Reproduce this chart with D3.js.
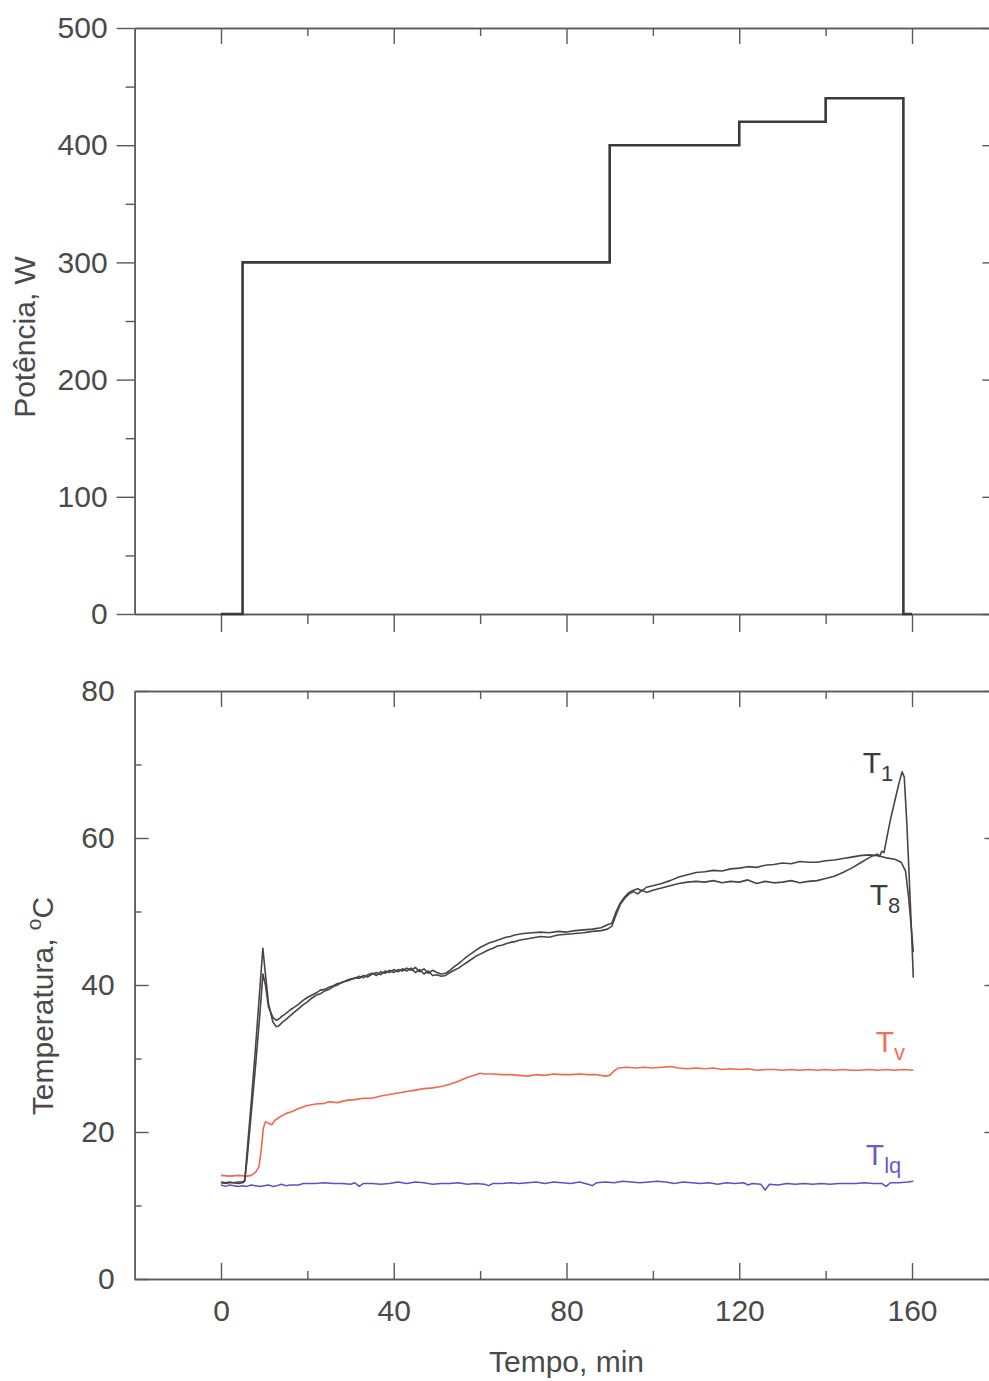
<!DOCTYPE html>
<html>
<head>
<meta charset="utf-8">
<script src="https://cdn.jsdelivr.net/npm/d3@7/dist/d3.min.js"></script>
<style>
  html, body { margin: 0; padding: 0; background: #fff; }
  svg { display: block; }
  .axis path, .axis line { stroke: #5a5a5a; stroke-width: 1.4; }
  .axis text { font-family: "Liberation Sans", Arial, sans-serif; font-size: 30px; fill: #4a4a4a; }
  .title { font-family: "Liberation Sans", Arial, sans-serif; font-size: 30px; fill: #4a4a4a; }
  .lbl { font-family: "Liberation Sans", Arial, sans-serif; font-size: 30px; }
</style>
</head>
<body>
<script>
// ---- Heating power programme (W) ----
const powerTime  = [0, 5, 90, 120, 140, 158, 160];
const powerValue = [0, 300, 400, 420, 440, 0, 0];

// ---- Temperature T1 (°C) ----
const t1Time = [0, 1, 2, 3, 4, 5, 5.5, 6, 7, 8, 9, 9.7, 10.2, 11, 12, 12.8, 13.5, 14, 15, 16, 17, 18, 19, 20,
  21, 22, 23, 24, 25, 26, 27, 28, 29, 30, 31, 32, 33, 34, 35, 36, 37, 38, 39, 40, 41, 42, 43, 44, 45, 46, 47, 48, 49, 50,
  51, 52, 53, 54, 55, 56, 57, 58, 59, 60, 61, 62, 63, 64, 65, 66, 67, 68, 69, 70, 72, 74, 76, 78, 80, 82, 84, 86, 88,
  89.5, 90.5, 91.5, 92.5, 93.5, 94.5, 95.5, 96.5, 97.5, 98.5, 100, 102, 104, 106, 108, 110, 112, 114, 116, 118, 120,
  122, 124, 126, 128, 130, 132, 134, 136, 138, 140, 142, 144, 146, 148, 150, 151, 152, 152.5, 153, 153.5, 154, 155,
  156, 157, 157.7, 158.2, 158.8, 159.4, 159.9, 160.3];
const t1Value = [13.1, 13.0, 13.1, 13.1, 13.0, 13.1, 13.3, 17.0, 24.0, 31.5, 39.5, 45.0, 42.0, 37.5, 35.0, 34.3, 34.5, 34.8, 35.3, 35.8, 36.3, 36.8, 37.3, 37.7,
  38.2, 38.6, 38.8, 39.2, 39.4, 39.8, 40.0, 40.4, 40.5, 40.7, 41.0, 40.9, 41.3, 41.1, 41.5, 41.7, 41.4, 41.9, 41.7, 42.1, 41.8, 42.2, 41.9, 42.3, 41.7, 42.1, 41.5, 41.9, 41.3, 41.4,
  41.2, 41.3, 41.7, 42.0, 42.3, 42.7, 43.1, 43.5, 43.9, 44.2, 44.5, 44.8, 45.0, 45.3, 45.4, 45.6, 45.8, 45.9, 46.1, 46.2, 46.4, 46.6, 46.5, 46.8, 46.9, 47.0, 47.1, 47.3, 47.4,
  47.6, 48.0, 49.6, 51.0, 51.8, 52.4, 52.7, 52.4, 52.9, 52.6, 52.9, 53.2, 53.5, 53.8, 54.0, 54.1, 54.0, 54.2, 53.9, 54.1, 54.0,
  54.3, 53.8, 54.1, 53.9, 54.0, 54.2, 53.9, 54.1, 54.2, 54.5, 54.8, 55.3, 55.9, 56.6, 57.3, 57.6, 57.8, 57.5, 58.2, 58.0, 59.5, 62.5,
  65.0, 67.5, 69.0, 68.3, 62.0, 54.0, 47.0, 41.0];

// ---- Temperature T8 (°C) ----
const t8Time = [0, 1, 2, 3, 4, 5, 5.5, 6, 7, 8, 9, 9.7, 10.3, 11, 12, 12.8, 13.5, 14, 15, 16, 17, 18, 19, 20,
  21, 22, 23, 24, 25, 26, 27, 28, 29, 30, 31, 32, 33, 34, 35, 36, 37, 38, 39, 40, 41, 42, 43, 44, 45, 46, 47, 48, 49, 50,
  51, 52, 53, 54, 55, 56, 57, 58, 59, 60, 61, 62, 63, 64, 65, 66, 67, 68, 69, 70, 72, 74, 76, 78, 80, 82, 84, 86, 88,
  89.5, 90.5, 91.5, 92.5, 93.5, 94.5, 95.5, 96.5, 97.5, 98.5, 100, 102, 104, 106, 108, 110, 112, 114, 116, 118, 120,
  122, 124, 126, 128, 130, 132, 134, 136, 138, 140, 142, 144, 146, 148, 150, 152, 154, 156, 157.5, 158.5, 159.2, 159.8, 160.3];
const t8Value = [13.2, 13.1, 13.2, 13.1, 13.2, 13.2, 13.4, 16.0, 22.5, 29.0, 36.0, 41.5, 40.0, 37.0, 35.6, 35.2, 35.4, 35.7, 36.1, 36.6, 37.0, 37.4, 37.9, 38.3,
  38.6, 38.9, 39.3, 39.4, 39.7, 39.9, 40.2, 40.3, 40.6, 40.8, 40.9, 41.2, 41.0, 41.4, 41.6, 41.3, 41.8, 41.6, 42.0, 41.7, 42.1, 41.9, 42.3, 42.0, 42.4, 41.8, 42.2, 41.6, 42.0, 41.7,
  41.5, 41.6, 42.0, 42.5, 42.9, 43.4, 43.9, 44.3, 44.7, 45.1, 45.4, 45.7, 45.9, 46.1, 46.3, 46.5, 46.6, 46.8, 46.9, 47.0, 47.1, 47.2, 47.1, 47.3, 47.2, 47.4, 47.5, 47.6, 47.8,
  48.2, 48.4, 50.0, 51.2, 52.0, 52.6, 52.9, 53.1, 52.8, 53.3, 53.5, 53.8, 54.2, 54.7, 55.0, 55.3, 55.4, 55.6, 55.5, 55.8, 55.9,
  56.1, 56.0, 56.3, 56.4, 56.6, 56.5, 56.8, 56.7, 56.7, 56.9, 57.0, 57.2, 57.4, 57.6, 57.7, 57.6, 57.3, 57.1, 56.7, 55.5, 52.0, 48.0, 44.5];

// ---- Vapour temperature Tv (°C) ----
const tvTime = [0, 2, 4, 6, 7, 8, 8.8, 9.3, 9.8, 10.3, 11, 11.8, 12.5, 13.5, 15, 16.5, 18, 20, 22, 24, 25, 27, 29, 31, 33, 35, 37, 39,
  41, 43, 45, 47, 49, 51, 53, 55, 57, 59, 60, 61, 63, 65, 67, 69, 71, 73, 75, 77, 79, 81, 83, 85, 87, 89, 90, 91, 92, 94, 96, 98,
  100, 102, 104, 106, 108, 110, 112, 114, 116, 118, 120, 122, 124, 126, 128, 130, 132, 134, 136, 138, 140, 142, 144, 146, 148,
  150, 152, 154, 156, 158, 160.3];
const tvValue = [14.1, 14.0, 14.1, 14.0, 14.1, 14.5, 15.3, 17.5, 20.5, 21.4, 21.2, 21.0, 21.6, 22.0, 22.5, 22.8, 23.2, 23.6, 23.8, 23.9, 24.1, 24.0, 24.3, 24.4, 24.6, 24.6, 24.9, 25.1,
  25.3, 25.5, 25.7, 25.9, 26.0, 26.2, 26.5, 26.9, 27.4, 27.8, 28.0, 27.9, 27.9, 27.8, 27.8, 27.7, 27.6, 27.8, 27.7, 27.9, 27.8, 27.8, 27.9, 27.8, 27.8, 27.6, 27.7, 28.3, 28.7, 28.8, 28.7, 28.8,
  28.7, 28.8, 28.9, 28.7, 28.6, 28.7, 28.6, 28.7, 28.5, 28.6, 28.5, 28.6, 28.4, 28.5, 28.5, 28.4, 28.5, 28.4, 28.5, 28.4, 28.5, 28.4, 28.5, 28.4, 28.4,
  28.5, 28.4, 28.5, 28.4, 28.5, 28.4];

// ---- Liquid temperature Tlq (°C) ----
const tlqTime = [0, 1, 2, 3, 4, 5, 6, 7, 8, 9, 10, 11, 12, 13, 14, 15, 16, 18, 19, 20, 22, 24, 26, 28, 30, 31, 32, 33, 35, 37, 39,
  41, 43, 45, 47, 49, 51, 53, 55, 57, 59, 61, 62, 63, 65, 67, 69, 71, 73, 75, 77, 79, 81, 83, 85, 86, 87, 89, 91, 93, 95, 97, 99,
  101, 103, 105, 107, 109, 111, 113, 115, 117, 119, 121, 122, 123, 125, 126, 127, 129, 131, 133, 135, 137, 139, 141, 143, 145,
  147, 149, 151, 153, 154, 155, 157, 159, 160.3];
const tlqValue = [12.8, 12.6, 12.8, 12.7, 12.6, 12.7, 12.6, 12.8, 12.7, 12.6, 12.7, 12.8, 12.6, 12.7, 12.9, 12.7, 12.8, 12.8, 13.0, 13.0, 13.0, 13.1, 13.0, 13.0, 12.9, 13.1, 12.6, 13.0, 13.0, 12.9, 13.0,
  13.2, 13.0, 13.2, 13.1, 12.9, 13.0, 13.0, 13.1, 12.9, 13.0, 12.9, 12.7, 13.0, 13.0, 13.1, 13.0, 13.1, 13.2, 13.0, 13.2, 13.1, 13.0, 13.2, 12.9, 12.7, 13.1, 13.2, 13.1, 13.3, 13.2, 13.1, 13.2,
  13.3, 13.2, 13.0, 13.2, 13.1, 13.0, 13.1, 12.9, 13.1, 13.0, 13.1, 12.8, 13.0, 12.9, 12.1, 12.9, 12.8, 13.0, 12.9, 13.0, 12.9, 13.0, 12.9, 13.0, 13.0,
  13.0, 13.1, 13.0, 13.0, 12.6, 13.1, 13.1, 13.2, 13.3];

// ---- Axis ticks ----
const xMajor = [0, 40, 80, 120, 160];
const xMinor = [20, 60, 100, 140];
const pMajor = [0, 100, 200, 300, 400, 500];
const pMinor = [50, 150, 250, 350, 450];
const tMajor = [0, 20, 40, 60, 80];
const tMinor = [10, 30, 50, 70];

// ---- Curve labels: [main, subscript, time, temperature, colour] ----
const curveLabels = [
  ["T", "1", 148.6, 68.8, "#3c3c3c"],
  ["T", "8", 150.2, 50.9, "#3c3c3c"],
  ["T", "v", 151.6, 30.9, "#f0705c"],
  ["T", "lq", 149.3, 15.5, "#6a5cc8"]
];

const W = 989, H = 1381;
const svg = d3.select("body").append("svg").attr("width", W).attr("height", H);

const xL = 134.6, xR = 998.4;
const x = d3.scaleLinear().domain([-20, 180]).range([xL, xR]);
const yP = d3.scaleLinear().domain([0, 500]).range([614, 28]);
const yT = d3.scaleLinear().domain([0, 80]).range([1279, 691]);

function frame(g) { g.attr("class", "axis"); }

// ===== Power panel =====
// left axis, outward ticks with labels
svg.append("g").call(frame).attr("transform", `translate(${xL},0)`)
  .call(d3.axisLeft(yP).tickValues(pMajor).tickSize(18).tickSizeOuter(0).tickPadding(9));
svg.append("g").call(frame).attr("transform", `translate(${xL},0)`)
  .call(d3.axisLeft(yP).tickValues(pMinor).tickSize(9).tickSizeOuter(0).tickFormat(""));
// right axis, inward ticks
svg.append("g").call(frame).attr("transform", `translate(${xR},0)`)
  .call(d3.axisRight(yP).tickValues(pMajor).tickSize(-16).tickSizeOuter(0).tickFormat(""));
svg.append("g").call(frame).attr("transform", `translate(${xR},0)`)
  .call(d3.axisRight(yP).tickValues(pMinor).tickSize(-8).tickSizeOuter(0).tickFormat(""));
// bottom axis, outward ticks, no labels
svg.append("g").call(frame).attr("transform", `translate(0,${yP(0)})`)
  .call(d3.axisBottom(x).tickValues(xMajor).tickSize(18).tickSizeOuter(0).tickFormat(""));
svg.append("g").call(frame).attr("transform", `translate(0,${yP(0)})`)
  .call(d3.axisBottom(x).tickValues(xMinor).tickSize(10).tickSizeOuter(0).tickFormat(""));
// top axis, inward ticks
svg.append("g").call(frame).attr("transform", `translate(0,${yP(500)})`)
  .call(d3.axisTop(x).tickValues(xMajor).tickSize(-16).tickSizeOuter(0).tickFormat(""));
svg.append("g").call(frame).attr("transform", `translate(0,${yP(500)})`)
  .call(d3.axisTop(x).tickValues(xMinor).tickSize(-8).tickSizeOuter(0).tickFormat(""));

const powerData = powerTime.map((t, i) => [t, powerValue[i]]);
svg.append("path")
  .datum(powerData)
  .attr("fill", "none")
  .attr("stroke", "#3a3a3a")
  .attr("stroke-width", 2.6)
  .attr("d", d3.line().x(d => x(d[0])).y(d => yP(d[1])).curve(d3.curveStepAfter));

svg.append("text").attr("class", "title")
  .attr("transform", `translate(35,337) rotate(-90)`)
  .attr("text-anchor", "middle")
  .text("Potência, W");

// ===== Temperature panel =====
svg.append("g").call(frame).attr("transform", `translate(${xL},0)`)
  .call(d3.axisLeft(yT).tickValues(tMajor).tickSize(-14).tickSizeOuter(0).tickPadding(20));
svg.append("g").call(frame).attr("transform", `translate(${xL},0)`)
  .call(d3.axisLeft(yT).tickValues(tMinor).tickSize(-7).tickSizeOuter(0).tickFormat(""));
svg.append("g").call(frame).attr("transform", `translate(${xR},0)`)
  .call(d3.axisRight(yT).tickValues(tMajor).tickSize(-14).tickSizeOuter(0).tickFormat(""));
svg.append("g").call(frame).attr("transform", `translate(${xR},0)`)
  .call(d3.axisRight(yT).tickValues(tMinor).tickSize(-7).tickSizeOuter(0).tickFormat(""));
svg.append("g").call(frame).attr("transform", `translate(0,${yT(0)})`)
  .call(d3.axisBottom(x).tickValues(xMajor).tickSize(-16).tickSizeOuter(0).tickPadding(21));
svg.append("g").call(frame).attr("transform", `translate(0,${yT(0)})`)
  .call(d3.axisBottom(x).tickValues(xMinor).tickSize(-8).tickSizeOuter(0).tickFormat(""));
svg.append("g").call(frame).attr("transform", `translate(0,${yT(80)})`)
  .call(d3.axisTop(x).tickValues(xMajor).tickSize(-16).tickSizeOuter(0).tickFormat(""));
svg.append("g").call(frame).attr("transform", `translate(0,${yT(80)})`)
  .call(d3.axisTop(x).tickValues(xMinor).tickSize(-8).tickSizeOuter(0).tickFormat(""));

const tLine = d3.line().x(d => x(d[0])).y(d => yT(d[1]));
const series = [
  [tlqTime, tlqValue, "#5b52c2", 1.5],
  [tvTime, tvValue, "#f2674f", 1.6],
  [t8Time, t8Value, "#4a4445", 1.6],
  [t1Time, t1Value, "#4a4445", 1.6]
];
series.forEach(([ts, vs, c, w]) => {
  svg.append("path")
    .datum(ts.map((t, i) => [t, vs[i]]))
    .attr("fill", "none")
    .attr("stroke", c)
    .attr("stroke-width", w)
    .attr("stroke-linejoin", "round")
    .attr("d", tLine);
});

curveLabels.forEach(([m, s, t, v, c]) => {
  const tx = svg.append("text").attr("class", "lbl")
    .attr("x", x(t)).attr("y", yT(v)).attr("fill", c);
  tx.append("tspan").text(m);
  tx.append("tspan").attr("dy", 8).attr("font-size", 22).text(s);
});

const tt = svg.append("text").attr("class", "title")
  .attr("transform", `translate(53,1006) rotate(-90)`)
  .attr("text-anchor", "middle");
tt.append("tspan").text("Temperatura, ");
tt.append("tspan").attr("dy", -12).attr("font-size", 21).text("o");
tt.append("tspan").attr("dy", 12).text("C");

svg.append("text").attr("class", "title")
  .attr("x", x(80)).attr("y", 1372)
  .attr("text-anchor", "middle")
  .text("Tempo, min");
</script>
</body>
</html>
